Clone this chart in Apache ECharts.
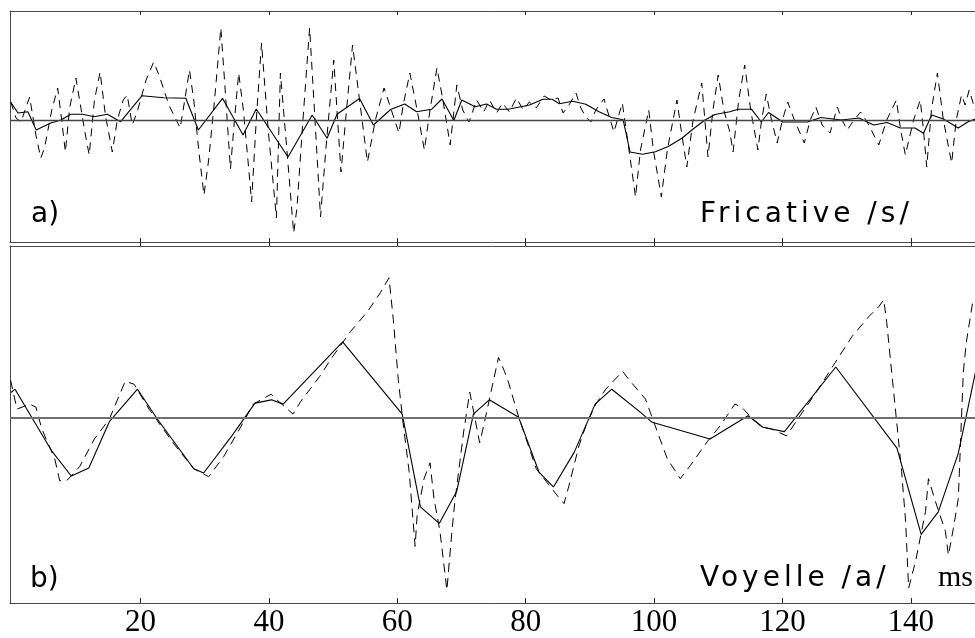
<!DOCTYPE html>
<html>
<head>
<meta charset="utf-8">
<script src="https://cdn.jsdelivr.net/npm/echarts@6/dist/echarts.min.js"></script>
<style>
html,body{margin:0;padding:0;background:#fff;}
#chart{width:975px;height:638px;}
</style>
</head>
<body>
<div id="chart"></div>
<script>
// ---- Data (time in ms, amplitude in arbitrary units) ----
const xTicks = [20, 40, 60, 80, 100, 120, 140];
const panelTitles = ['Fricative /s/', 'Voyelle /a/'];

// a) Fricative /s/ : smoothed (solid) and raw (dashed) signal
const topSolidT = [-0.23,0.90,2.44,3.73,6.00,7.59,9.14,10.95,12.76,14.82,16.88,18.17,20.23,23.59,27.04,29.00,32.76,35.96,38.02,42.97,46.73,49.05,50.60,54.11,56.27,58.95,61.15,63.00,65.32,66.95,68.80,70.04,72.10,73.91,75.45,77.26,80.60,82.68,84.11,85.24,87.32,89.37,91.43,93.39,95.17,96.26,98.19,100.20,102.21,104.33,106.23,107.94,109.48,111.80,113.09,115.16,116.70,117.83,120.04,123.91,125.98,129.21,131.90,134.23,136.29,138.36,140.65,141.97,143.26,145.07,147.39,148.94,150.5];
const topSolidV = [17.7,7,8.3,-10,-3,0,5.7,5.7,3.3,5.7,-1.7,8.3,24.3,22.3,21.7,-10,21.7,-15,11,-37,5,-18.3,5.7,21.5,-5,10.5,16,8.3,10.7,21,-0.5,20,13.3,16,10.7,10.7,15,20.7,20.8,16.3,18.8,15.8,8.3,2.5,0.3,-32,-34.3,-31.7,-26.5,-18.3,-8.3,0,5.5,8.3,10.8,10.8,-2,7.5,-2,-2,2.5,0,2,-5,-2.5,-8,-8,-13.3,5,1,-8,-1.7,2];

const topDashT = [-0.23,0.59,1.36,2.71,3.68,4.45,5.03,6.16,7.08,7.70,
  8.28,8.94,9.92,10.49,11.26,11.99,12.81,13.69,14.51,15.59,
  16.37,17.29,17.91,18.69,19.46,20.85,22.04,22.86,24.41,26.16,
  26.88,27.61,28.28,29.05,29.87,30.60,31.52,32.50,33.07,34.00,
  34.62,35.28,36.01,36.89,37.29,38.02,38.84,39.88,41.16,41.78,
  42.66,43.85,44.36,45.29,46.33,46.99,48.03,48.85,50.09,51.22,
  51.94,53.02,54.11,55.34,56.58,57.93,59.06,60.25,60.91,61.95,
  63.08,64.21,65.09,66.17,67.10,68.23,69.27,70.19,71.17,72.36,
  73.44,74.37,75.45,76.38,77.46,78.55,79.63,80.56,81.64,82.88,
  83.96,85.04,85.82,86.74,87.83,88.60,89.37,90.15,90.92,92.20,
  92.93,93.75,95.05,95.87,97.11,97.88,99.17,99.89,101.13,102.06,
  103.56,104.22,105.10,106.08,107.43,108.40,109.17,109.99,110.87,111.80,
  112.31,113.19,114.12,115.05,116.18,116.75,117.48,118.30,119.18,120.00,
  120.82,121.86,123.40,124.33,125.21,126.19,127.42,128.55,129.28,130.10,
  131.14,132.18,133.46,135.01,136.25,137.75,138.42,139.15,140.43,141.47,
  141.97,142.48,143.21,144.14,145.07,146.36,147.08,147.90,148.47,149.09,
  150.5];
const topDashV = [18,2,-2,23,-15,-38,-28,10,32,0,
  -32,12,42,20,-10,-35,20,48,5,-32,
  0,20,25,-5,8,40,58,45,15,-8,
  20,50,20,-30,-75,-40,20,92,40,-49,
  0,47,10,-52,-82,0,77,-10,-98,47,
  -20,-113,-88,0,92,20,-97,-30,60,-52,
  0,75,20,-42,0,32,10,-13,15,47,
  10,-30,10,52,20,-25,35,10,-2,20,
  8,20,7,17,8,22,10,18,12,24,
  20,22,7,15,27,12,3,-2,10,21,
  5,-12,17,-20,-77,-30,10,-30,-77,-30,
  20,-10,-47,0,37,-37,10,45,10,-12,
  -32,20,55,10,-30,0,26,0,-23,0,
  18,0,-23,0,13,-5,-13,13,0,-10,
  0,8,-5,-25,0,20,-10,-35,0,20,
  -10,-47,10,47,0,-43,0,25,15,30,
  0];

// b) Voyelle /a/
const botSolidT = [-0.19,0.43,6.11,9.20,11.93,15.13,19.51,22.60,28.28,29.82,
  34.24,37.82,40.39,42.20,51.48,60.76,63.59,66.53,69.27,71.85,
  74.32,78.90,82.06,84.32,87.57,90.81,93.40,97.89,99.70,108.71,
  114.64,116.96,118.26,120.31,128.31,137.84,141.61,144.28,147.37,148.92,
  150.2];
const botSolidV = [25.7,29,-32.7,-58.3,-50.3,-3.7,29,-1,-51,-55.3,
  -17.7,15,18.3,14,76.5,4,-89.3,-106,-73.3,4,
  18.3,0.7,-54.3,-69.3,-34.3,14,29,5.7,-4.3,-21,
  2.3,-9.3,-11,-13.7,51.3,-30.3,-117,-94.3,-36,10.7,
  50];

const botDashT = [-0.26,0.74,2.75,3.68,4.61,6.62,7.39,8.48,10.49,12.81,
  15.13,17.60,18.99,21.31,25.18,28.28,30.60,32.92,35.24,37.56,
  40.34,41.12,43.74,44.98,47.92,49.62,52.71,55.34,57.35,58.70,
  59.37,60.14,60.91,61.84,62.77,63.08,64.16,65.09,65.71,66.64,
  67.72,68.50,68.96,70.35,71.28,71.90,72.83,73.44,75.76,76.69,
  77.31,78.86,81.64,85.04,85.97,86.74,88.29,89.37,90.92,92.47,
  95.10,96.03,98.66,100.52,102.06,104.08,105.62,108.26,110.27,112.59,
  113.67,114.91,116.77,118.31,120.63,122.18,125.27,127.74,130.84,133.46,
  135.01,135.78,136.25,137.02,137.80,138.57,139.19,139.66,140.74,141.67,
  142.29,142.75,143.84,145.39,145.86,146.63,147.40,148.18,148.64,149.7];
const botDashV = [38,9,14,11,-11,-41,-63,-63,-49,-21,
  -1,37,34,9,-26,-51,-59,-39,-13,14,
  24,19,4,17,42,59,87,107,126,141,
  99,39,-6,-54,-129,-98,-61,-45,-81,-114,
  -173,-114,-84,-13,26,6,-25,-8,61,47,
  36,2,-51,-79,-86,-68,-28,-8,14,29,
  47,39,19,-14,-41,-61,-48,-24,-8,14,
  11,2,-9,-11,-18,-3,26,51,82,102,
  112,119,96,46,-4,-54,-104,-171,-144,-114,
  -94,-61,-84,-114,-138,-111,-81,46,76,119];

// ---- wide letter spacing only for the two panel titles (canvas letterSpacing) ----
(function () {
  const P = CanvasRenderingContext2D.prototype;
  if (!('letterSpacing' in P)) return;
  const orig = P.fillText;
  P.fillText = function (s) {
    this.letterSpacing = panelTitles.indexOf(String(s)) >= 0 ? '4px' : '0px';
    const r = orig.apply(this, arguments);
    this.letterSpacing = '0px';
    return r;
  };
})();

function zip(t, v) {
  const n = Math.min(t.length, v.length);
  const out = [];
  for (let i = 0; i < n; i++) out.push([t[i], v[i]]);
  return out;
}

const FRAME = '#4a4a4a';
const X_MIN = -0.35, X_MAX = 150;

function xAxis(grid, pos, tickInside, tickLen, showLabels) {
  return {
    type: 'value', gridIndex: grid, position: pos, min: X_MIN, max: X_MAX,
    axisLine: { show: true, onZero: false, lineStyle: { color: FRAME, width: 1 } },
    axisTick: { show: true, inside: tickInside, length: tickLen, customValues: xTicks,
      lineStyle: { color: '#222', width: 1 } },
    axisLabel: showLabels ? {
      show: true, customValues: xTicks, margin: 4,
      fontFamily: '"Liberation Serif", "Times New Roman", serif', fontSize: 31, color: '#000'
    } : { show: false },
    splitLine: { show: false }
  };
}
function yAxis(grid, mn, mx) {
  return {
    type: 'value', gridIndex: grid, min: mn, max: mx,
    axisLine: { show: true, onZero: false, lineStyle: { color: FRAME, width: 1 } },
    axisTick: { show: false }, axisLabel: { show: false }, splitLine: { show: false }
  };
}
function zeroLine(color, width) {
  return {
    silent: true, symbol: ['none', 'none'], label: { show: false },
    lineStyle: { color: color, width: width, type: 'solid' },
    emphasis: { disabled: true },
    data: [{ yAxis: 0 }]
  };
}

const chart = echarts.init(document.getElementById('chart'), null, { renderer: 'canvas' });
const sansFont = '28px "DejaVu Sans", sans-serif';
function txt(s, x, y, font) {
  return { type: 'text', x: x, y: y, silent: true,
    style: { text: s, font: font, fill: '#000', textAlign: 'left', textVerticalAlign: 'middle',
      align: 'left', verticalAlign: 'middle' } };
}

chart.setOption({
  animation: false,
  backgroundColor: '#fff',
  grid: [
    { left: 10, top: 11, width: 972, height: 231 },
    { left: 10, top: 246, width: 972, height: 359 }
  ],
  xAxis: [
    xAxis(0, 'bottom', true, 4, false),
    xAxis(0, 'top', true, 4, false),
    xAxis(1, 'bottom', true, 5, true),
    xAxis(1, 'top', false, 4, false)
  ],
  yAxis: [ yAxis(0, -122, 109), yAxis(1, -186, 173) ],
  series: [
    { type: 'line', xAxisIndex: 0, yAxisIndex: 0, data: zip(topDashT, topDashV),
      symbol: 'none', lineStyle: { color: '#000', width: 1, type: [8, 6] }, z: 2 },
    { type: 'line', xAxisIndex: 0, yAxisIndex: 0, data: zip(topSolidT, topSolidV),
      symbol: 'none', lineStyle: { color: '#000', width: 1.1 }, z: 3,
      markLine: zeroLine('#444', 1.3) },
    { type: 'line', xAxisIndex: 2, yAxisIndex: 1, data: zip(botDashT, botDashV),
      symbol: 'none', lineStyle: { color: '#000', width: 1, type: [9, 6] }, z: 2 },
    { type: 'line', xAxisIndex: 2, yAxisIndex: 1, data: zip(botSolidT, botSolidV),
      symbol: 'none', lineStyle: { color: '#000', width: 1.1 }, z: 3,
      markLine: zeroLine('#707070', 2) }
  ],
  graphic: [
    txt('a)', 31, 214.6, sansFont),
    txt(panelTitles[0], 700, 214.6, sansFont),
    txt('b)', 30, 579.6, sansFont),
    txt(panelTitles[1], 700, 578.6, sansFont),
    txt('ms', 938, 578, '30px "Liberation Serif", "Times New Roman", serif')
  ]
});
</script>
</body>
</html>
